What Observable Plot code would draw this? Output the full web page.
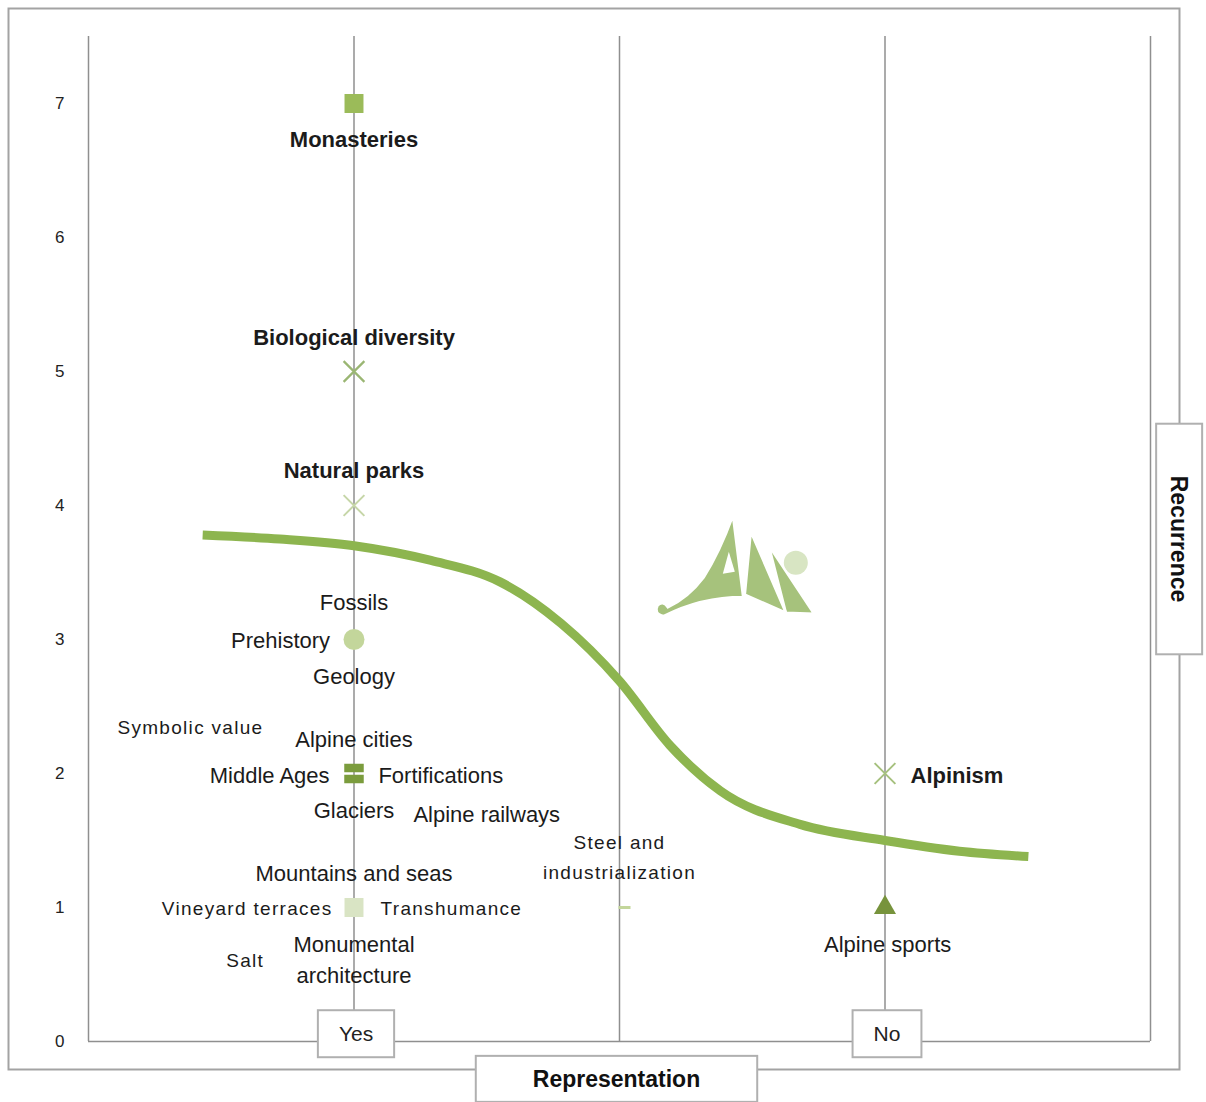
<!DOCTYPE html>
<html><head><meta charset="utf-8">
<script src="https://cdn.jsdelivr.net/npm/d3@7"></script>
<script src="https://cdn.jsdelivr.net/npm/@observablehq/plot@0.6"></script>
<style>body{margin:0;background:#fff}</style>
</head><body>
<script>
// ---- axes ----
const representationGrid = [0, 1, 2, 3, 4];
const representationTickValues = [1, 3];
const representationTickLabels = ["Yes", "No"];
const recurrenceTicks = [0, 1, 2, 3, 4, 5, 6, 7];
const axisTitleX = "Representation";
const axisTitleY = "Recurrence";

// ---- markers (representation position, recurrence) ----
const markerNames = ["Monasteries", "Biological diversity", "Natural parks", "Prehistory group", "Middle Ages group", "Vineyard group", "Steel and industrialization", "Alpinism", "Alpine sports"];
const markerRepresentation = [1, 1, 1, 1, 1, 1, 2, 3, 3];
const markerRecurrence = [7, 5, 4, 3, 2, 1, 1, 2, 1];

// ---- trend curve ----
const trendRepresentation = [0.43, 0.72, 1.0, 1.29, 1.55, 1.78, 2.0, 2.19, 2.38, 2.68, 3.0, 3.28, 3.54];
const trendRecurrence = [3.78, 3.75, 3.70, 3.59, 3.43, 3.12, 2.69, 2.21, 1.87, 1.62, 1.50, 1.42, 1.38];

// ---- labels ----
const labelTexts = ["Monasteries", "Biological diversity", "Natural parks", "Fossils", "Prehistory", "Geology", "Symbolic value", "Alpine cities", "Middle Ages", "Fortifications", "Glaciers", "Alpine railways", "Steel and", "industrialization", "Mountains and seas", "Vineyard terraces", "Transhumance", "Monumental", "architecture", "Salt", "Alpinism", "Alpine sports"];
const labelRepresentation = [1.0, 1.0, 1.0, 1.0, 0.91, 1.0, 0.384, 1.0, 0.908, 1.092, 1.0, 1.5, 2.0, 2.0, 1.0, 0.919, 1.10, 1.0, 1.0, 0.59, 3.096, 3.01];
const labelRecurrence = [6.73, 5.25, 4.26, 3.27, 2.99, 2.72, 2.34, 2.25, 1.985, 1.985, 1.72, 1.69, 1.48, 1.26, 1.25, 0.99, 0.99, 0.72, 0.49, 0.60, 1.985, 0.72];
const labelSide = ["center", "center", "center", "center", "left", "center", "center", "center", "left", "right", "center", "center", "center", "center", "center", "left", "right", "center", "center", "center", "right", "center"];
const labelEmphasis = ["strong", "strong", "strong", "normal", "normal", "normal", "minor", "normal", "normal", "normal", "normal", "normal", "minor", "minor", "normal", "minor", "minor", "normal", "normal", "minor", "strong", "normal"];

// ---- styling (kept apart from data) ----
const splitSquare = {draw(ctx, size) { const s = Math.sqrt(size), h = s / 2, g = 1.2; ctx.rect(-h, -h, s, h - g); ctx.rect(-h, g, s, h - g); }};
const dashSymbol = {draw(ctx) { ctx.rect(-1, -1.5, 12, 3); }};
const markerLook = {
  "Monasteries": {symbol: "square", color: "#9bbb59", r: 10.7},
  "Biological diversity": {symbol: "times", color: "#9ab673", r: 9.5, stroke: true, sw: 2.2},
  "Natural parks": {symbol: "times", color: "#c6d6a8", r: 9.5, stroke: true, sw: 2},
  "Prehistory group": {symbol: "circle", color: "#c3d69b", r: 10.5},
  "Middle Ages group": {symbol: splitSquare, color: "#7b9c3d", r: 11},
  "Vineyard group": {symbol: "square", color: "#d9e4c4", r: 10.7},
  "Steel and industrialization": {symbol: dashSymbol, color: "#c3d69b", r: 5},
  "Alpinism": {symbol: "times", color: "#a6c17e", r: 9.5, stroke: true, sw: 2},
  "Alpine sports": {symbol: "triangle", color: "#77933c", r: 8.2}
};
const anchorOf = {left: "end", center: "middle", right: "start"};
const fontOf = {
  strong: {fontSize: 22, fontWeight: "bold", fontFamily: "Liberation Sans, Arial, sans-serif"},
  normal: {fontSize: 22, fontWeight: "normal", fontFamily: "Liberation Sans, Arial, sans-serif"},
  minor: {fontSize: 19, fontWeight: "normal", fontFamily: "Liberation Sans, Arial, sans-serif", letterSpacing: 1.3}
};
const textColor = "#1b1b1b";
const gridColor = "#8f8f8f";

const labelIdx = labelTexts.map((_, i) => i);
const labelMarks = [];
for (const emph of ["strong", "normal", "minor"]) {
  for (const side of ["left", "center", "right"]) {
    const subset = labelIdx.filter(i => labelEmphasis[i] === emph && labelSide[i] === side);
    if (!subset.length) continue;
    const f = fontOf[emph];
    labelMarks.push(Plot.text(subset, {
      x: i => labelRepresentation[i], y: i => labelRecurrence[i], text: i => labelTexts[i],
      textAnchor: anchorOf[side], fontSize: f.fontSize, fontWeight: f.fontWeight, fontFamily: f.fontFamily,
      fill: textColor, className: emph === "minor" ? "minor-label" : undefined
    }));
  }
}

const markerMarks = markerNames.map((name, i) => {
  const look = markerLook[name];
  const o = {x: d => markerRepresentation[d], y: d => markerRecurrence[d], symbol: look.symbol, r: look.r};
  if (look.stroke) { o.stroke = look.color; o.strokeWidth = look.sw; o.fill = "none"; }
  else { o.fill = look.color; o.stroke = "none"; }
  return Plot.dot([i], o);
});

const trendIdx = trendRepresentation.map((_, i) => i);

const plot = Plot.plot({
  width: 1206, height: 1102,
  marginLeft: 88, marginRight: 56, marginTop: 36, marginBottom: 61,
  x: {domain: [0, 4], axis: null},
  y: {domain: [0, 7.5], axis: null},
  style: {fontFamily: "Liberation Sans, Arial, sans-serif", background: "#fff", overflow: "visible"},
  marks: [
    Plot.frame({insetLeft: -80, insetTop: -28, insetRight: -29, insetBottom: -28, stroke: "#a3a3a3", strokeWidth: 2}),
    Plot.ruleX(representationGrid, {y1: 0, y2: 7.5, stroke: gridColor, strokeWidth: 1.5}),
    Plot.ruleY([0], {x1: 0, x2: 4, stroke: gridColor, strokeWidth: 1.5}),
    Plot.axisY(recurrenceTicks, {tickSize: 0, tickPadding: 24, fontSize: 17, color: "#222", tickFormat: d => String(d)}),
    Plot.line(trendIdx, {x: i => trendRepresentation[i], y: i => trendRecurrence[i], curve: "monotone-x", stroke: "#8db54f", strokeWidth: 9, strokeLinecap: "butt"}),
    ...labelMarks,
    ...markerMarks,
    Plot.text(representationTickValues, {x: d => d, text: (d, i) => representationTickLabels[i], frameAnchor: "bottom", textAnchor: "middle", lineAnchor: "middle", dx: 2, dy: -7, fontSize: 21, fill: "#222", className: "box-tick"}),
    Plot.text([axisTitleX], {x: 2, frameAnchor: "bottom", textAnchor: "middle", lineAnchor: "middle", dx: -3, dy: 38, fontSize: 23, fontWeight: "bold", fill: "#111", className: "box-title-x"}),
    Plot.text([axisTitleY], {frameAnchor: "right", textAnchor: "middle", lineAnchor: "middle", dx: 28, dy: 0, rotate: 90, fontSize: 23, fontWeight: "bold", fill: "#111", className: "box-title-y"})
  ]
});
document.body.append(plot);

const svg = d3.select(plot);
svg.selectAll("g.minor-label text").style("letter-spacing", fontOf.minor.letterSpacing + "px");

// boxes around axis labels
const pads = {"box-tick": [21, 12], "box-title-x": [57, 10], "box-title-y": [52, 10]};
for (const cls of Object.keys(pads)) {
  svg.selectAll("g." + cls + " text").each(function () {
    const bb = this.getBBox();
    const [px, py] = pads[cls];
    const r = document.createElementNS("http://www.w3.org/2000/svg", "rect");
    r.setAttribute("x", bb.x - px); r.setAttribute("y", bb.y - py);
    r.setAttribute("width", bb.width + 2 * px); r.setAttribute("height", bb.height + 2 * py);
    r.setAttribute("fill", "#fff"); r.setAttribute("stroke", "#b0b0b0"); r.setAttribute("stroke-width", "2");
    const t = this.getAttribute("transform"); if (t) r.setAttribute("transform", t);
    this.parentNode.insertBefore(r, this);
  });
}

// decorative logo anchored in data space
const sx = plot.scale("x"), sy = plot.scale("y");
const lx = sx.apply(2.44), ly = sy.apply(3.54);
const logo = svg.append("g").attr("transform", `translate(${lx},${ly})`).attr("fill", "#a6c27c");
logo.append("circle").attr("cx", 60).attr("cy", -4).attr("r", 12).attr("fill", "#d8e5c3");
logo.append("path").attr("d", "M33,-21 L50,46 L78,47 Z").attr("stroke", "#fff").attr("stroke-width", 2.5);
logo.append("path").attr("d", "M15,-35 L9,28 L50,46 Z").attr("stroke", "#fff").attr("stroke-width", 2.5);
logo.append("path").attr("d", "M-3,-50 L7,30 Q-35,30 -72,49 Q-82,47 -78,39 Q-73,34 -68,41 Q-47,31 -32,11 Q-16,-14 -3,-50 Z").attr("stroke", "#fff").attr("stroke-width", 2);
logo.append("path").attr("d", "M-7,-15 L-13,7 L-1,5 Z").attr("fill", "#fff");
</script>
</body></html>
